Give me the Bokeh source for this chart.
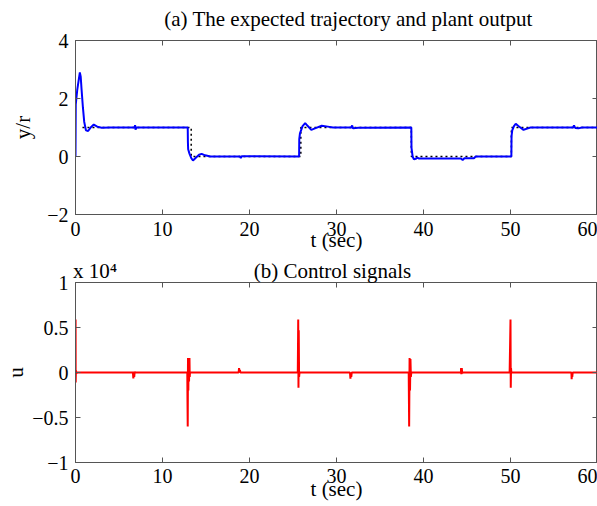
from bokeh.plotting import figure
from bokeh.models import LinearAxis, FixedTicker, Range1d, CustomJSTickFormatter
from bokeh.layouts import column
from bokeh.embed import file_html
from bokeh.resources import INLINE

FONT = "Liberation Serif"
FRAME = "#555555"

# ---------------- data ----------------
# (a) plant output y(t)
t_out = [0, 0.03, 0.2, 0.35, 0.5, 0.6, 0.7, 0.85, 1.0, 1.2, 1.45, 1.8, 2.1, 2.5, 3.0, 4.0,
         6.8, 6.85, 6.9, 7.0, 12.9,
         12.92, 12.95, 13.1, 13.3, 13.5, 13.8, 14.2, 14.5, 14.9, 15.5, 18.9, 19.0, 19.1, 25.7,
         25.72, 25.8, 26.1, 26.4, 26.7, 27.1, 27.6, 28.3, 29.0, 29.6, 31.7, 31.8, 31.9, 32.5, 38.6,
         38.62, 38.75, 38.9, 39.1, 39.3, 39.5, 40.0, 44.3, 44.5, 44.7, 45.8, 46.0, 50.1,
         50.12, 50.2, 50.4, 50.6, 50.9, 51.5, 52.0, 52.3, 57.2, 57.3, 57.45, 57.8, 58.2, 60]
y_out = [0, 1.8, 2.3, 2.6, 2.9, 2.75, 2.3, 1.7, 1.2, 0.9, 0.88, 1.02, 1.1, 1.03, 0.99, 1.0,
         1.0, 1.08, 0.93, 1.0, 1.0,
         0.5, 0.25, 0.1, -0.05, -0.14, -0.05, 0.06, 0.09, 0.04, 0.0, 0.0, -0.05, 0.01, 0.0,
         0.6, 0.8, 1.05, 1.15, 1.05, 0.92, 0.98, 1.06, 1.03, 1.0, 1.0, 1.07, 0.97, 0.99, 1.0,
         0.3, 0.0, -0.1, -0.08, -0.04, -0.07, -0.07, -0.07, -0.12, -0.06, -0.06, 0.0, 0.0,
         0.7, 0.9, 1.05, 1.13, 1.05, 0.92, 0.97, 1.0, 1.0, 1.07, 0.98, 0.97, 1.0, 1.0]

# (a) expected trajectory r(t)
t_ref = [0.8, 13.3, 13.3, 25.9, 25.9, 38.6, 38.6, 50.1, 50.1, 60]
y_ref = [1, 1, 0, 0, 1, 1, 0, 0, 1, 1]

# (b) control signal u(t), raw units
t_u = [0, 0.01, 0.02, 0.05, 0.1, 0.2, 6.6, 6.65, 6.7, 6.75, 6.8, 6.85,
       12.85, 12.87, 12.9, 12.93, 12.97, 13.0, 13.05, 13.1, 13.13, 13.16,
       18.75, 18.8, 18.85, 18.9, 18.95,
       25.55, 25.6, 25.63, 25.66, 25.7, 25.75,
       31.55, 31.6, 31.65, 31.7, 31.75,
       38.3, 38.35, 38.4, 38.45, 38.5, 38.55, 38.6,
       44.3, 44.32, 44.35, 44.4, 44.45, 44.5,
       49.9, 49.95, 50.0, 50.03, 50.06, 50.1,
       57.0, 57.03, 57.07, 57.1, 57.15, 60]
u_raw = [0, 5900, -1100, 200, -100, 0, 0, -650, 100, -500, 100, 0,
         0, -3000, -6000, 1600, -2000, 1500, -1000, 1600, -500, 0,
         0, 500, 0, 300, 0,
         0, 5900, -1700, 4700, -500, 0,
         0, -700, 0, -500, 0,
         0, -6000, 1600, -2000, 1500, -500, 0,
         0, 500, -200, 500, -100, 0,
         0, 2900, 5900, -1700, 500, 0,
         0, -750, 0, -500, 0, 0]
u_scale = 1e4
u_plot = [v / u_scale for v in u_raw]

# tick marks and tick labels
x_ticks = [0, 10, 20, 30, 40, 50, 60]
x_label_pos = [0, 10, 20, 30, 40, 50, 58.85]
x_labels = ["0", "10", "20", "30", "40", "50", "60"]
y_ticks_a = [-2, 0, 2, 4]
y_labels_a = ["\u22122", "0", "2", "4"]
y_ticks_b = [-1, -0.5, 0, 0.5, 1]
y_labels_b = ["\u22121", "\u22120.5", "0", "0.5", "1"]

LOOKUP = ("for (let i = 0; i < pos.length; i++) { if (Math.abs(pos[i] - tick) < 1e-9) return txt[i]; }"
          " return '';")


def fmt(pos, txt):
    return CustomJSTickFormatter(args={"pos": list(pos), "txt": list(txt)}, code=LOOKUP)


def make_fig(yr, height, top, bottom):
    p = figure(x_range=Range1d(0, 60), y_range=Range1d(*yr), width=597, height=height,
               output_backend="svg", toolbar_location=None,
               min_border_left=75, min_border_right=0, min_border_top=top, min_border_bottom=bottom,
               background_fill_color="white", border_fill_color="white")
    p.grid.visible = False
    p.outline_line_color = FRAME
    p.outline_line_width = 1
    return p


def base_style(ax):
    ax.axis_line_color = FRAME
    ax.major_label_text_font = FONT
    ax.major_label_text_color = "black"
    ax.axis_label_text_font = FONT
    ax.axis_label_text_font_style = "normal"
    ax.axis_label_text_color = "black"


def style_axes(p, yticks, ylabels, xstand, xlabel, xlabel_stand, ylabel, ylabel_stand,
               top_pos, top_txt, top_stand):
    # bottom axis: labels on major ticks (zero length), marks as inward minor ticks
    xa = p.xaxis[0]
    base_style(xa)
    xa.ticker = FixedTicker(ticks=x_label_pos, minor_ticks=x_ticks)
    xa.formatter = fmt(x_label_pos, x_labels)
    xa.major_tick_in = 0
    xa.major_tick_out = 0
    xa.minor_tick_in = 5
    xa.minor_tick_out = 0
    xa.minor_tick_line_color = FRAME
    xa.major_label_text_font_size = "20px"
    xa.major_label_standoff = xstand
    xa.axis_label = xlabel
    xa.axis_label_text_font_size = "21px"
    xa.axis_label_standoff = xlabel_stand

    ya = p.yaxis[0]
    base_style(ya)
    ya.ticker = FixedTicker(ticks=yticks)
    ya.formatter = fmt(yticks, ylabels)
    ya.major_tick_in = 5
    ya.major_tick_out = 0
    ya.major_tick_line_color = FRAME
    ya.minor_tick_line_color = None
    ya.major_label_text_font_size = "20px"
    ya.major_label_standoff = 7
    ya.axis_label = ylabel
    ya.axis_label_text_font_size = "21px"
    ya.axis_label_standoff = ylabel_stand

    # top: inward tick marks + text placed as labels
    ta = LinearAxis(ticker=FixedTicker(ticks=top_pos, minor_ticks=x_ticks),
                    formatter=fmt(top_pos, top_txt),
                    major_tick_in=0, major_tick_out=0,
                    minor_tick_in=5, minor_tick_out=0, minor_tick_line_color=FRAME,
                    axis_line_color=None, major_label_standoff=top_stand,
                    major_label_text_font=FONT, major_label_text_font_size="21px",
                    major_label_text_color="black")
    p.add_layout(ta, "above")

    # right: inward tick marks only
    ra = LinearAxis(ticker=FixedTicker(ticks=[], minor_ticks=yticks),
                    major_tick_in=0, major_tick_out=0,
                    minor_tick_in=5, minor_tick_out=0, minor_tick_line_color=FRAME,
                    axis_line_color=None, major_label_standoff=0,
                    major_label_text_font_size="0px")
    p.add_layout(ra, "right")


# ---------------- (a) ----------------
pa = make_fig((-2, 4), 255, 40, 41)
style_axes(pa, y_ticks_a, y_labels_a, 7, "t (sec)", -11, "y/r", 9,
           [31.38], ["(a) The expected trajectory and plant output"], 10)
pa.line(t_ref, y_ref, line_color="black", line_width=1.5, line_dash="2 3")
pa.line(t_out, y_out, line_color="#0000ff", line_width=2)

# ---------------- (b) ----------------
pb = make_fig((-1, 1), 251, 27, 44)
style_axes(pb, y_ticks_b, y_labels_b, 6, "t (sec)", -9, "u", 1,
           [2.25, 29.54], ["x 10\u2074", "(b) Control signals"], 0)
pb.line(t_u, u_plot, line_color="#ff0000", line_width=2)

layout = column(pa, pb, spacing=0)
open("out.html", "w").write(file_html(layout, INLINE))
